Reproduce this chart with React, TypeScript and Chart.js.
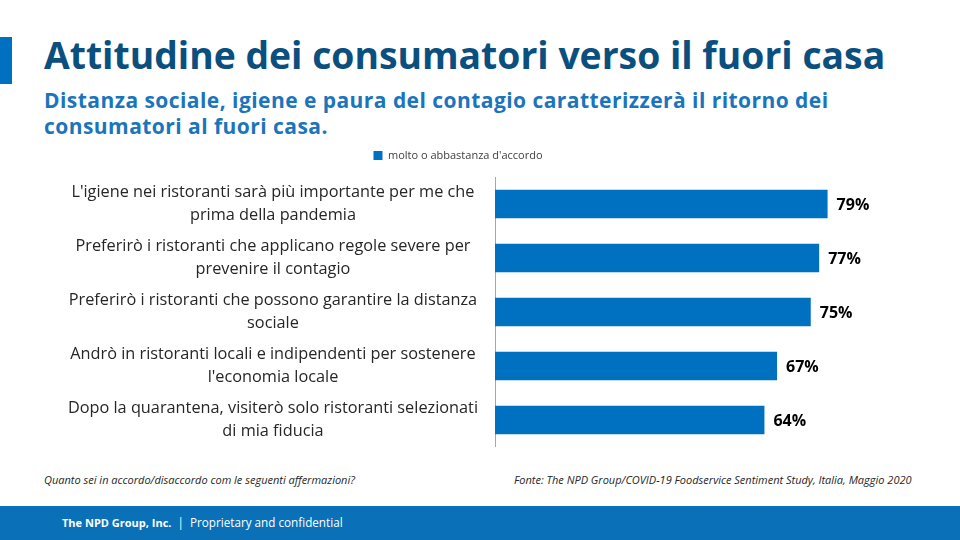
import React, { useEffect, useRef } from "react";
import { Chart, registerables } from "chart.js";

Chart.register(...registerables);

const categories: string[][] = [
  ["L'igiene nei ristoranti sarà più importante per me che", "prima della pandemia"],
  ["Preferirò i ristoranti che applicano regole severe per", "prevenire il contagio"],
  ["Preferirò i ristoranti che possono garantire la distanza", "sociale"],
  ["Andrò in ristoranti locali e indipendenti per sostenere", "l'economia locale"],
  ["Dopo la quarantena, visiterò solo ristoranti selezionati", "di mia fiducia"],
];
const seriesName = "molto o abbastanza d'accordo";
const values: number[] = [79, 77, 75, 67, 64];

const FONT = "'Open Sans', sans-serif";
const BAR = "#0070C0";

const dataLabels = {
  id: "dataLabels",
  afterDatasetsDraw(chart: any) {
    const ctx = chart.ctx;
    const meta = chart.getDatasetMeta(0);
    ctx.save();
    ctx.font = `bold 16px ${FONT}`;
    ctx.fillStyle = "#000000";
    ctx.textAlign = "left";
    ctx.textBaseline = "middle";
    meta.data.forEach((el: any, i: number) => {
      ctx.fillText(`${chart.data.datasets[0].data[i]}%`, el.x + 9, el.y + 1);
    });
    ctx.restore();
  },
};

const legendGap = {
  id: "legendGap",
  beforeInit(chart: any) {
    const legend = chart.legend;
    if (!legend) return;
    const fit = legend.fit;
    legend.fit = function () {
      fit.call(this);
      this.height += 6;
    };
  },
};

export default function App() {
  const ref = useRef<HTMLCanvasElement>(null);
  useEffect(() => {
    document.body.style.margin = "0";
    const chart = new Chart(ref.current!, {
      type: "bar",
      data: {
        labels: categories,
        datasets: [
          {
            label: seriesName,
            data: values,
            backgroundColor: BAR,
            borderWidth: 0,
            barPercentage: 0.53,
            categoryPercentage: 1,
          },
        ],
      },
      options: {
        indexAxis: "y",
        animation: false,
        responsive: false,
        maintainAspectRatio: false,
        layout: { padding: { left: 0, right: 20, top: 0, bottom: 0 } },
        plugins: {
          tooltip: { enabled: false },
          legend: {
            display: true,
            position: "top",
            labels: {
              boxWidth: 9,
              boxHeight: 9,
              padding: 10,
              color: "#404040",
              font: { family: FONT, size: 11 },
            },
          },
        },
        scales: {
          x: { display: false, min: 0, max: 100 },
          y: {
            afterFit(scale: any) {
              scale.width = 495;
              scale.paddingTop = 0;
              scale.paddingBottom = 0;
            },
            grid: { display: false, drawTicks: false },
            border: { display: true, color: "#A6A6A6", width: 1 },
            ticks: {
              crossAlign: "center",
              padding: 17,
              color: "#262626",
              font: { family: FONT, size: 16.3, lineHeight: 1.41 },
            },
          },
        },
      },
      plugins: [legendGap, dataLabels],
    } as any);
    return () => chart.destroy();
  }, []);

  return (
    <div style={{ position: "fixed", left: 0, top: 0, width: 960, height: 540, background: "#fff", overflow: "hidden", fontFamily: FONT }}>
      <div style={{ position: "absolute", left: 0, top: 37, width: 12, height: 47, background: BAR }} />
      <div style={{ position: "absolute", left: 44, top: 30, fontSize: 37.3, fontWeight: 700, color: "#0B4F7F", whiteSpace: "nowrap", lineHeight: "50px" }}>
        Attitudine dei consumatori verso il fuori casa
      </div>
      <div style={{ position: "absolute", left: 44, top: 87, fontSize: 21, fontWeight: 700, color: "#1A75BC", lineHeight: "26px", whiteSpace: "nowrap", letterSpacing: 0.45 }}>
        Distanza sociale, igiene e paura del contagio caratterizzerà il ritorno dei
        <br />
        consumatori al fuori casa.
      </div>
      <div style={{ position: "absolute", left: 0, top: 140 }}>
        <canvas ref={ref} width={936} height={307} />
      </div>
      <div style={{ position: "absolute", left: 44, top: 472, fontSize: 11, fontStyle: "italic", color: "#262626", whiteSpace: "nowrap" }}>
        Quanto sei in accordo/disaccordo com le seguenti affermazioni?
      </div>
      <div style={{ position: "absolute", left: 514, top: 472, fontSize: 11, fontStyle: "italic", color: "#262626", whiteSpace: "nowrap" }}>
        Fonte: The NPD Group/COVID-19 Foodservice Sentiment Study,  Italia, Maggio 2020
      </div>
      <div style={{ position: "absolute", left: 0, top: 506, width: 960, height: 34, background: "#0A71B8" }} />
      <div style={{ position: "absolute", left: 62, top: 514, fontSize: 11.7, color: "#fff", whiteSpace: "pre" }}>
        <b style={{ fontSize: 11 }}>The NPD Group, Inc.</b>{"  |  "}Proprietary and confidential
      </div>
    </div>
  );
}
